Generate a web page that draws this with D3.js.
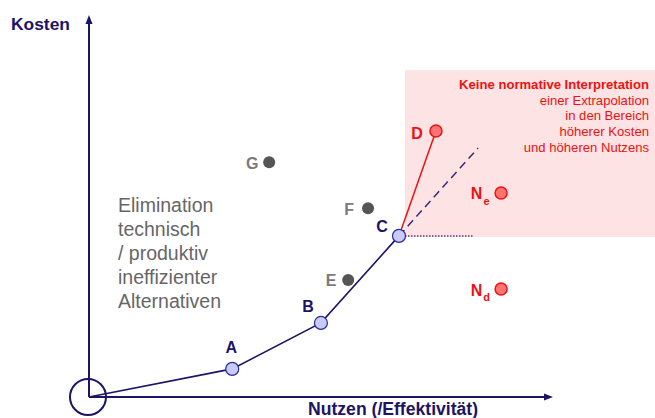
<!DOCTYPE html>
<html><head><meta charset="utf-8">
<script src="https://cdn.jsdelivr.net/npm/d3@7"></script>
<style>body{margin:0;background:#fff}svg{display:block;font-family:"Liberation Sans",Arial,sans-serif}</style>
</head><body><svg id="c" width="655" height="418"></svg>
<script>
// Data (arbitrary units: Nutzen on x, Kosten on y)
const frontierLabels = ["0", "A", "B", "C"];
const frontierX = [0, 31, 50.2, 67.1];
const frontierY = [0, 7.4, 19.5, 42.4];
const dominatedLabels = ["E", "F", "G"];
const dominatedX = [56.1, 60.4, 39];
const dominatedY = [30.8, 49.7, 61.8];
const newLabels = ["D", "N", "N"];
const newSubs = ["", "e", "d"];
const newX = [75.1, 89.2, 89.2];
const newY = [70, 53.7, 28.4];
const extrapEnd = [84.2, 65.5];
const horizEnd = [83.1, 42.4];
const regionX = [68.4, 122.5];
const regionY = [42.1, 86];
const noteLines = ["Keine normative Interpretation", "einer Extrapolation", "in den Bereich", "höherer Kosten", "und höheren Nutzens"];
const elimLines = ["Elimination", "technisch", "/ produktiv", "ineffizienter", "Alternativen"];

const svg = d3.select("#c");
const x = d3.scaleLinear().domain([0, 100]).range([89, 551]);
const y = d3.scaleLinear().domain([0, 100]).range([397, 17]);
const navy = "#1c1466";

// pink region
svg.append("rect")
  .attr("x", x(regionX[0])).attr("y", y(regionY[1]))
  .attr("width", x(regionX[1]) - x(regionX[0])).attr("height", y(regionY[0]) - y(regionY[1]))
  .attr("fill", "#fde3e3");

// note text
const note = svg.append("text").attr("text-anchor", "end").attr("fill", "#ee1111").attr("font-size", 13.1);
noteLines.forEach((t, i) => {
  note.append("tspan").attr("x", 649).attr("y", 89 + i * 15.7).text(t)
    .attr("font-weight", i === 0 ? "bold" : "normal");
});

// axes
svg.append("line").attr("x1", x(0)).attr("y1", y(0)).attr("x2", x(0)).attr("y2", y(100) + 4)
  .attr("stroke", navy).attr("stroke-width", 2);
svg.append("path").attr("d", `M${x(0)},${y(100) - 2} l-3.5,9 h7 z`).attr("fill", navy);
svg.append("line").attr("x1", x(0)).attr("y1", y(0)).attr("x2", x(100) - 4).attr("y2", y(0))
  .attr("stroke", navy).attr("stroke-width", 2);
svg.append("path").attr("d", `M${x(100) + 2},${y(0)} l-9,-3.5 v7 z`).attr("fill", navy);

svg.append("text").attr("x", 11).attr("y", 30).attr("font-size", 17.4).attr("font-weight", "bold")
  .attr("fill", navy).text("Kosten");
svg.append("text").attr("x", 308).attr("y", 415).attr("font-size", 17.6).attr("font-weight", "bold")
  .attr("fill", navy).text("Nutzen (/Effektivität)");

// elimination text
const el = svg.append("text").attr("fill", "#666").attr("font-size", 19.5);
elimLines.forEach((t, i) => el.append("tspan").attr("x", 118).attr("y", 212 + i * 24).text(t));

// origin circle
svg.append("circle").attr("cx", x(0) - 1).attr("cy", y(0)).attr("r", 18)
  .attr("fill", "none").attr("stroke", navy).attr("stroke-width", 2);

// extrapolation lines
const C = frontierX.length - 1;
svg.append("line").attr("x1", x(frontierX[C])).attr("y1", y(frontierY[C]))
  .attr("x2", x(extrapEnd[0])).attr("y2", y(extrapEnd[1]))
  .attr("stroke", "#3a2a7a").attr("stroke-width", 1.5).attr("stroke-dasharray", "8,5");
svg.append("line").attr("x1", x(frontierX[C])).attr("y1", y(frontierY[C]))
  .attr("x2", x(horizEnd[0])).attr("y2", y(horizEnd[1]))
  .attr("stroke", "#5a3a8a").attr("stroke-width", 1.5).attr("stroke-dasharray", "1.5,1.5");
svg.append("line").attr("x1", x(frontierX[C])).attr("y1", y(frontierY[C]))
  .attr("x2", x(newX[0])).attr("y2", y(newY[0]))
  .attr("stroke", "#ee1111").attr("stroke-width", 1.5);

// frontier line
const pts = frontierX.map((v, i) => [x(v), y(frontierY[i])]);
svg.append("path").attr("d", d3.line()(pts)).attr("fill", "none")
  .attr("stroke", navy).attr("stroke-width", 1.6);

// frontier points
const fOff = {A: [-1, -21], B: [-13, -16], C: [-17, -9]};
frontierLabels.forEach((l, i) => {
  if (i === 0) return;
  svg.append("circle").attr("cx", x(frontierX[i])).attr("cy", y(frontierY[i])).attr("r", 6.5)
    .attr("fill", "#c8cbf7").attr("stroke", "#2a2a9a").attr("stroke-width", 1.2);
  svg.append("text").attr("x", x(frontierX[i]) + fOff[l][0]).attr("y", y(frontierY[i]) + fOff[l][1])
    .attr("text-anchor", "middle").attr("dominant-baseline", "central")
    .attr("font-size", 16).attr("font-weight", "bold").attr("fill", navy).text(l);
});

// dominated points
const dOff = {E: -17, F: -19, G: -17};
dominatedLabels.forEach((l, i) => {
  svg.append("circle").attr("cx", x(dominatedX[i])).attr("cy", y(dominatedY[i])).attr("r", 6)
    .attr("fill", "#555");
  svg.append("text").attr("x", x(dominatedX[i]) + dOff[l]).attr("y", y(dominatedY[i]) + 1)
    .attr("text-anchor", "middle").attr("dominant-baseline", "central")
    .attr("font-size", 16).attr("font-weight", "bold").attr("fill", "#7a7a7a").text(l);
});

// new points
newLabels.forEach((l, i) => {
  const cx = x(newX[i]), cy = y(newY[i]);
  svg.append("circle").attr("cx", cx).attr("cy", cy).attr("r", 6)
    .attr("fill", "#ff7373").attr("stroke", "#ee1111").attr("stroke-width", 1.5);
  const sub = newSubs[i];
  svg.append("text").attr("x", cx + (sub ? -24.5 : -19)).attr("y", cy + (sub ? 1 : 2))
    .attr("text-anchor", "middle").attr("dominant-baseline", "central")
    .attr("font-size", 16).attr("font-weight", "bold").attr("fill", "#ee1111").text(l);
  if (sub) svg.append("text").attr("x", cx - 14.5).attr("y", cy + 8)
    .attr("text-anchor", "middle").attr("dominant-baseline", "central")
    .attr("font-size", 11).attr("font-weight", "bold").attr("fill", "#ee1111").text(sub);
});
</script></body></html>
